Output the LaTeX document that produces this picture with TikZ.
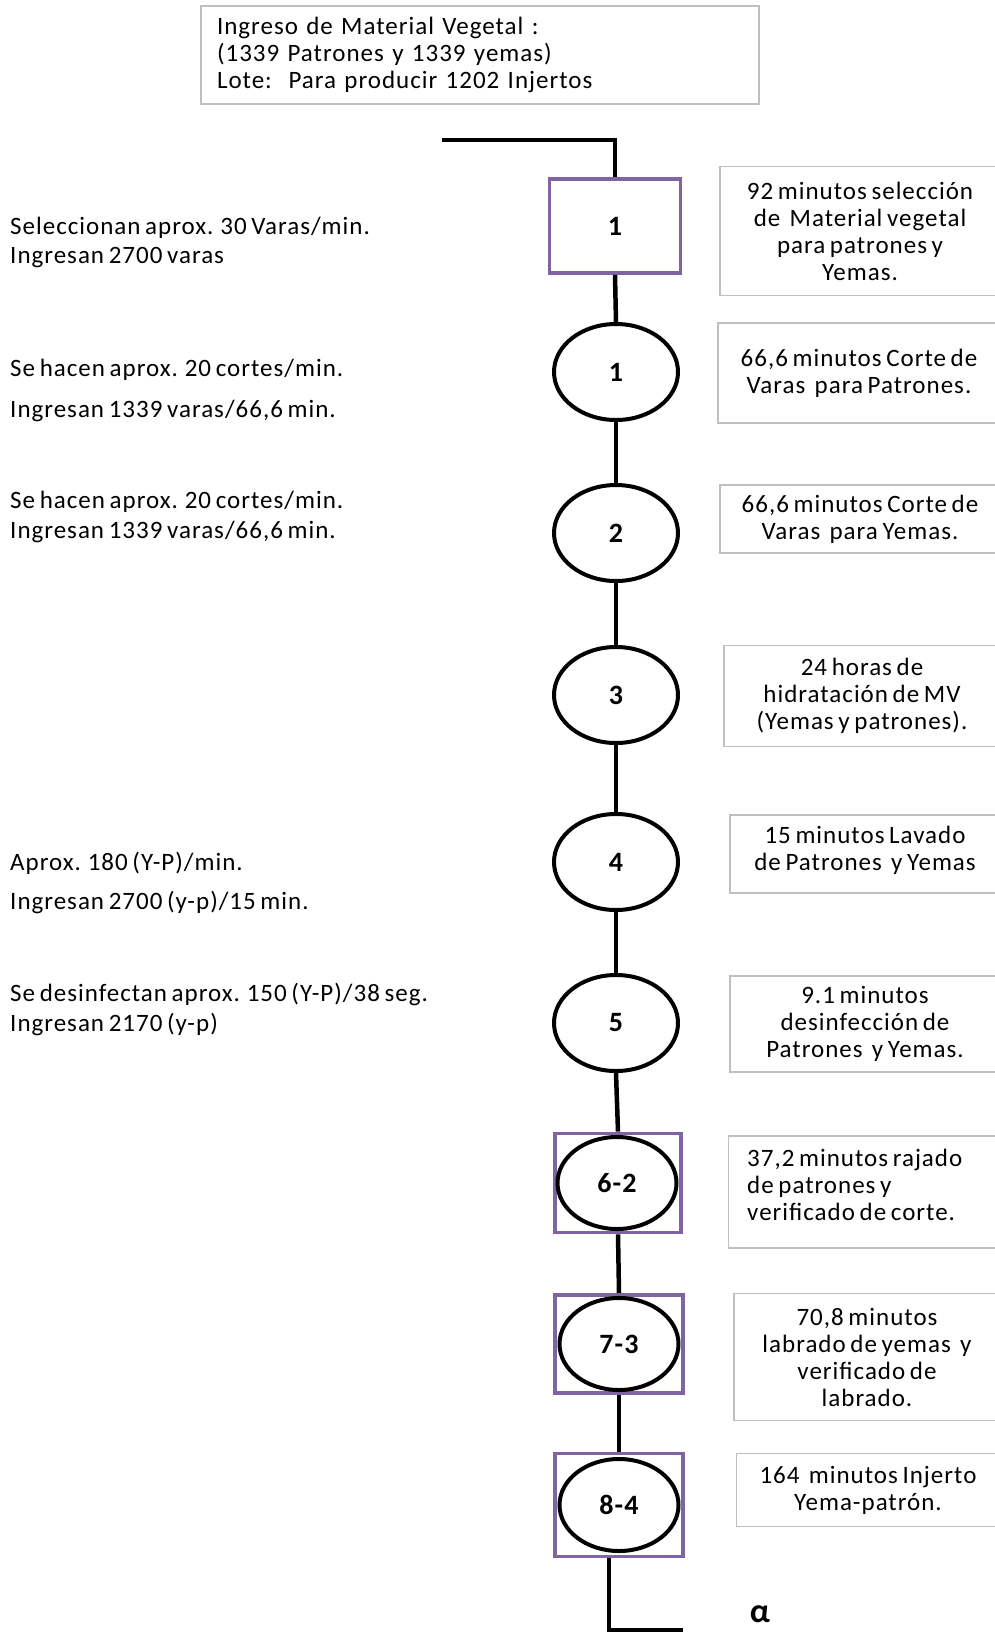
\documentclass[tikz,border=0pt]{standalone}
\usepackage{fontspec}
\setmainfont{Carlito}[LetterSpace=4, WordSpace=0.7]
\usetikzlibrary{shapes.geometric}
\definecolor{boxgray}{HTML}{BFBFBF}
\definecolor{opurple}{HTML}{8064A2}
\begin{document}
\begin{tikzpicture}[x=1pt,y=-1pt,
  txt/.style={font=\fontsize{25}{27}\selectfont, inner sep=0pt},
  rbox/.style={draw=boxgray, line width=1.5pt, font=\fontsize{25}{27}\selectfont, align=center, inner sep=0pt},
  sqbox/.style={draw=opurple, line width=3.8pt, inner sep=0pt},
  ovl/.style={ellipse, draw=black, line width=4pt, minimum width=124, minimum height=96, inner sep=0pt, font=\fontsize{28}{30}\selectfont\bfseries},
  conn/.style={draw=black, line width=4.5pt},
  lbl/.style={font=\fontsize{28}{30}\selectfont\bfseries}
]
\useasboundingbox (0,0) rectangle (995,1632);
\clip (0,0) rectangle (995,1632);

% top box
\node[rbox, minimum width=558, minimum height=98, text width=526, align=left] (top) at (480,55)
  {Ingreso de Material Vegetal :\\(1339 Patrones y 1339 yemas)\\Lote:\ \ Para producir 1202 Injertos};

% stage nodes
\node[sqbox, minimum width=131, minimum height=94, lbl] (b1) at (615,226) {1};
\node[ovl] (c1) at (616,372) {1};
\node[ovl] (c2) at (616,533) {2};
\node[ovl] (c3) at (616,695) {3};
\node[ovl] (c4) at (616,862) {4};
\node[ovl] (c5) at (616,1023) {5};
\node[sqbox, minimum width=126, minimum height=99] (s62) at (618,1183) {};
\node[ovl, minimum width=119, minimum height=92] (e62) at (617,1183) {6-2};
\node[sqbox, minimum width=128, minimum height=98] (s73) at (619,1344) {};
\node[ovl, minimum width=119, minimum height=92] (e73) at (619,1344) {7-3};
\node[sqbox, minimum width=128, minimum height=103] (s84) at (619,1505) {};
\node[ovl, minimum width=119, minimum height=92] (e84) at (619,1505) {8-4};

% connectors
\coordinate (start) at (442,140);
\coordinate (finish) at (683,1630);
\draw[conn] (start) -| (b1.north);
\draw[conn] (b1.south) -- (c1.north);
\draw[conn] (c1.south) -- (c2.north);
\draw[conn] (c2.south) -- (c3.north);
\draw[conn] (c3.south) -- (c4.north);
\draw[conn] (c4.south) -- (c5.north);
\draw[conn] (c5.south) -- (s62.north);
\draw[conn] (s62.south) -- (s73.north);
\draw[conn] (s73.south) -- (s84.north);
\draw[conn] ([xshift=-10pt]s84.south) |- (finish);
\node[font=\fontsize{34}{36}\selectfont\bfseries, inner sep=0pt] (alpha) at (760,1614) {α};

% right boxes
\node[rbox, minimum width=280, minimum height=129] (ra) at (860,231)
  {92 minutos selección\\de\ \ Material vegetal\\para patrones y\\Yemas.};
\node[rbox, minimum width=282, minimum height=100] (rb) at (859,373)
  {66,6 minutos Corte de\\Varas\ \ para Patrones.};
\node[rbox, minimum width=280, minimum height=68] (rc) at (860,519)
  {66,6 minutos Corte de\\Varas\ \ para Yemas.};
\node[rbox, minimum width=276, minimum height=101] (rd) at (862,696)
  {24 horas de\\hidratación de MV\\(Yemas y patrones).};
\node[rbox, minimum width=270, minimum height=78] (re) at (865,854) {};
\node[txt, align=center] (ret) at (865,850)
  {15 minutos Lavado\\de Patrones\ \ y Yemas};
\node[rbox, minimum width=270, minimum height=96] (rf) at (865,1024)
  {9.1 minutos\\desinfección de\\Patrones\ \ y Yemas.};
\node[rbox, minimum width=271, minimum height=112] (rg) at (864,1192) {};
\node[txt, align=left, anchor=west] (rgt) at (747,1185)
  {37,2 minutos rajado\\de patrones y\\verificado de corte.};
\node[rbox, minimum width=266, minimum height=127] (rh) at (867,1357)
  {70,8 minutos\\labrado de yemas\ \ y\\verificado de\\labrado.};
\node[rbox, minimum width=263, minimum height=73] (ri) at (868,1490)
  {164\ \ minutos Injerto\\Yema-patrón.};

% left texts
\node[txt, anchor=west] (la1) at (10,228) {Seleccionan aprox. 30 Varas/min.};
\node[txt, anchor=west] (la2) at (10,258) {Ingresan 2700 varas};
\node[txt, anchor=west] (lb1) at (10,370) {Se hacen aprox. 20 cortes/min.};
\node[txt, anchor=west] (lb2) at (10,411) {Ingresan 1339 varas/66,6 min.};
\node[txt, anchor=west] (lc1) at (10,502) {Se hacen aprox. 20 cortes/min.};
\node[txt, anchor=west] (lc2) at (10,532) {Ingresan 1339 varas/66,6 min.};
\node[txt, anchor=west] (ld1) at (10,863) {Aprox. 180 (Y-P)/min.};
\node[txt, anchor=west] (ld2) at (10,902) {Ingresan 2700 (y-p)/15 min.};
\node[txt, anchor=west] (le1) at (10,994) {Se desinfectan aprox. 150 (Y-P)/38 seg.};
\node[txt, anchor=west] (le2) at (10,1024) {Ingresan 2170 (y-p)};
\end{tikzpicture}
\end{document}
